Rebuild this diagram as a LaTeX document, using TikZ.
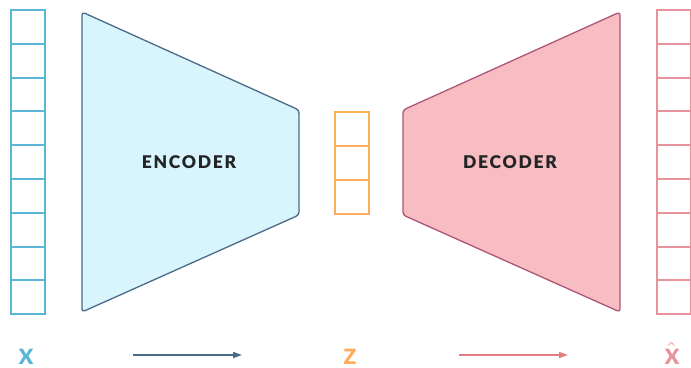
\documentclass[tikz,border=0pt]{standalone}
\usepackage{fontspec}
\setmainfont{Lato}
\newfontfamily\labelfont[LetterSpace=10]{Lato Black}
\newfontfamily\varfont{Lato Black}
\newfontfamily\hatfont{Lato Light}
\usetikzlibrary{arrows.meta}
\definecolor{inblue}{HTML}{5AB6D6}
\definecolor{encfill}{HTML}{D8F5FD}
\definecolor{encline}{HTML}{4A6A88}
\definecolor{decfill}{HTML}{F7BDC3}
\definecolor{decline}{HTML}{AE5676}
\definecolor{outpink}{HTML}{E8939B}
\definecolor{latorange}{HTML}{FDAE5C}
\definecolor{arrowpink}{HTML}{E37A84}
\definecolor{textdark}{HTML}{222426}
\tikzset{
  cell/.style={draw=#1, line width=2pt, minimum width=34pt, minimum height=33.8pt,
    inner sep=0pt, outer sep=0pt},
  block/.style={line width=1.3pt, rounded corners=3pt, line join=round},
  blocktext/.style={text=textdark, font=\labelfont\fontsize{17.5}{18}\selectfont},
  varlabel/.style={font=\varfont\fontsize{21}{21}\selectfont, inner sep=1pt},
  flow/.style={line width=1.6pt, -{Triangle[length=9pt,width=6pt]}},
}
\begin{document}
\begin{tikzpicture}[x=1pt,y=-1pt]
  \useasboundingbox (0,0) rectangle (691,367);
  % input vector x
  \foreach \i in {1,...,9}
    \node[cell=inblue] (x\i) at (28, {10+33.8*(\i-0.5)}) {};
  % reconstructed vector
  \foreach \i in {1,...,9}
    \node[cell=outpink] (y\i) at (674, {10+33.8*(\i-0.5)}) {};
  % latent vector z
  \foreach \i in {1,...,3}
    \node[cell=latorange] (z\i) at (352, {112+34*(\i-0.5)}) {};
  % encoder and decoder blocks
  \draw[block, draw=encline, fill=encfill]
    (82,12) -- (299,110) -- (299,215) -- (82,312) -- cycle;
  \draw[block, draw=decline, fill=decfill]
    (403,110) -- (620,12) -- (620,312) -- (403,215) -- cycle;
  \node[blocktext] (enc) at (189,162) {ENCODER};
  \node[blocktext] (dec) at (510,162) {DECODER};
  % variable labels
  \node[varlabel, text=inblue] (lx) at (26,356.5) {X};
  \node[varlabel, text=latorange] (lz) at (350,356.5) {Z};
  \node[varlabel, text=outpink] (ly) at (672,356.5) {X};
  \node[text=outpink, font=\hatfont\fontsize{28}{28}\selectfont, inner sep=0pt,
    anchor=base] (lyhat) at (671.5,362) {ˆ};
  % flow arrows
  \coordinate (a1) at (133,355);
  \coordinate (a2) at (242,355);
  \coordinate (b1) at (459,355);
  \coordinate (b2) at (568,355);
  \draw[flow, draw=encline, fill=encline] (a1) -- (a2);
  \draw[flow, draw=arrowpink, fill=arrowpink] (b1) -- (b2);
\end{tikzpicture}
\end{document}
